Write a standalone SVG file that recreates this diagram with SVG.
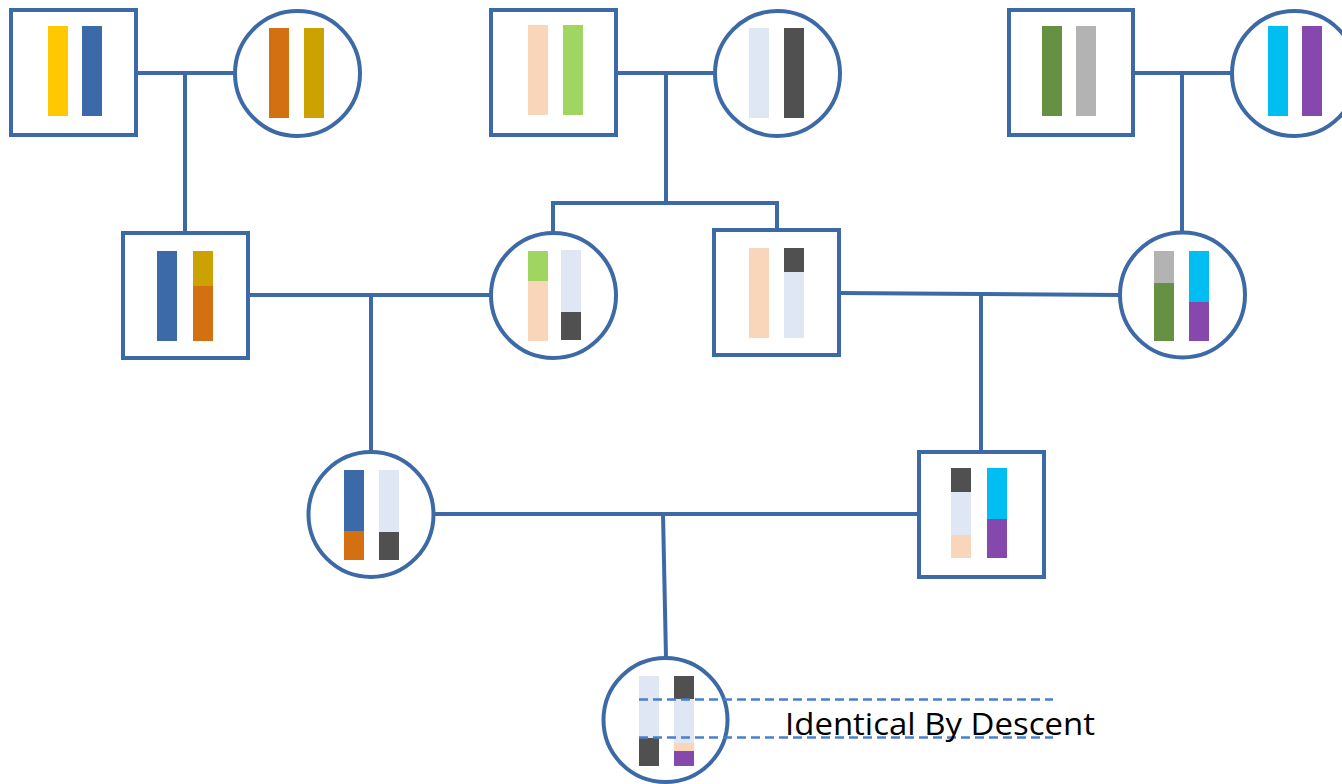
<svg xmlns="http://www.w3.org/2000/svg" width="1342" height="784" viewBox="0 0 1342 784">
<style>
.node{fill:#ffffff;stroke:#3D6AA6;stroke-width:4}
.conn line,.conn polyline{stroke:#3D6AA6;stroke-width:4;fill:none}
.ibd{stroke:#4A7FD0;stroke-width:2.5;stroke-dasharray:9 5}
.lbl{font-family:"Open Sans","Liberation Sans",Arial,sans-serif;font-size:31px;fill:#000000}
.yel{fill:#FFC800}.blu{fill:#3C69A8}.org{fill:#D27012}.gld{fill:#CCA200}
.pch{fill:#F9D5BA}.grn{fill:#A1D562}.lt{fill:#E0E7F4}.drk{fill:#505050}
.dgr{fill:#669142}.gry{fill:#B3B3B3}.cyn{fill:#00BEF2}.pur{fill:#8549AD}
</style>
<rect width="1342" height="784" fill="#ffffff"/>
<g class="conn" id="connectors">
<line x1="136" y1="73" x2="235" y2="73"/>
<line x1="185" y1="73" x2="185" y2="233"/>
<line x1="616" y1="73" x2="715" y2="73"/>
<polyline points="666,73 666,203"/>
<polyline points="553,233 553,203 777,203 777,230"/>
<line x1="1133" y1="73" x2="1232" y2="73"/>
<line x1="1182" y1="73" x2="1182" y2="233"/>
<line x1="248" y1="295" x2="491" y2="295"/>
<line x1="371" y1="295" x2="371" y2="452"/>
<line x1="839" y1="293" x2="1120" y2="295"/>
<line x1="981" y1="294" x2="981" y2="452"/>
<line x1="433" y1="514" x2="919" y2="514"/>
<line x1="663" y1="514" x2="666" y2="658"/>
</g>
<g id="gp1-male">
<rect class="node" x="11" y="10" width="125" height="125"/>
<rect class="yel" x="48" y="26" width="20" height="90"/>
<rect class="blu" x="82" y="26" width="20" height="90"/>
</g>
<g id="gp1-female">
<circle class="node" cx="297.5" cy="73.5" r="62.5"/>
<rect class="org" x="269" y="28" width="20" height="90"/>
<rect class="gld" x="304" y="28" width="20" height="90"/>
</g>
<g id="gp2-male">
<rect class="node" x="491" y="10" width="125" height="125"/>
<rect class="pch" x="528" y="25" width="20" height="90"/>
<rect class="grn" x="563" y="25" width="20" height="90"/>
</g>
<g id="gp2-female">
<circle class="node" cx="777.5" cy="73.5" r="62.5"/>
<rect class="lt" x="749" y="28" width="20" height="90"/>
<rect class="drk" x="784" y="28" width="20" height="90"/>
</g>
<g id="gp3-male">
<rect class="node" x="1009" y="10" width="124" height="125"/>
<rect class="dgr" x="1042" y="26" width="20" height="90"/>
<rect class="gry" x="1076" y="26" width="20" height="90"/>
</g>
<g id="gp3-female">
<circle class="node" cx="1294.5" cy="73.5" r="62.5"/>
<rect class="cyn" x="1268" y="26" width="20" height="90"/>
<rect class="pur" x="1302" y="26" width="20" height="90"/>
</g>
<g id="p1-male">
<rect class="node" x="123" y="233" width="125" height="125"/>
<rect class="blu" x="157" y="251" width="20" height="90"/>
<rect class="gld" x="193" y="251" width="20" height="35"/>
<rect class="org" x="193" y="286" width="20" height="55"/>
</g>
<g id="p1-female">
<circle class="node" cx="553.5" cy="295.5" r="62.5"/>
<rect class="grn" x="528" y="251" width="20" height="30"/>
<rect class="pch" x="528" y="281" width="20" height="60"/>
<rect class="lt" x="561" y="250" width="20" height="62"/>
<rect class="drk" x="561" y="312" width="20" height="28"/>
</g>
<g id="p2-male">
<rect class="node" x="714" y="230" width="125" height="125"/>
<rect class="pch" x="749" y="248" width="20" height="90"/>
<rect class="drk" x="784" y="248" width="20" height="24"/>
<rect class="lt" x="784" y="272" width="20" height="66"/>
</g>
<g id="p2-female">
<circle class="node" cx="1182.5" cy="295" r="62.5"/>
<rect class="gry" x="1154" y="251" width="20" height="32"/>
<rect class="dgr" x="1154" y="283" width="20" height="58"/>
<rect class="cyn" x="1189" y="251" width="20" height="51"/>
<rect class="pur" x="1189" y="302" width="20" height="39"/>
</g>
<g id="c1-female">
<circle class="node" cx="371" cy="514.5" r="62.5"/>
<rect class="blu" x="344" y="470" width="20" height="61"/>
<rect class="org" x="344" y="531" width="20" height="29"/>
<rect class="lt" x="379" y="470" width="20" height="62"/>
<rect class="drk" x="379" y="532" width="20" height="28"/>
</g>
<g id="c2-male">
<rect class="node" x="919" y="452" width="125" height="125"/>
<rect class="drk" x="951" y="468" width="20" height="24"/>
<rect class="lt" x="951" y="492" width="20" height="43"/>
<rect class="pch" x="951" y="535" width="20" height="23"/>
<rect class="cyn" x="987" y="468" width="20" height="51"/>
<rect class="pur" x="987" y="519" width="20" height="39"/>
</g>
<g id="grandchild">
<circle class="node" cx="665.5" cy="720" r="62"/>
<rect class="lt" x="639" y="676" width="20" height="62"/>
<rect class="drk" x="639" y="738" width="20" height="28"/>
<rect class="drk" x="674" y="676" width="20" height="23"/>
<rect class="lt" x="674" y="699" width="20" height="44"/>
<rect class="pch" x="674" y="743" width="20" height="8"/>
<rect class="pur" x="674" y="751" width="20" height="15"/>
</g>
<g id="ibd-label">
<line class="ibd" x1="639" y1="699.5" x2="1053" y2="699.5"/>
<line class="ibd" x1="639" y1="737.5" x2="1053" y2="737.5"/>
<text class="lbl" x="785" y="735" textLength="310" lengthAdjust="spacingAndGlyphs">Identical By Descent</text>
</g>
</svg>
